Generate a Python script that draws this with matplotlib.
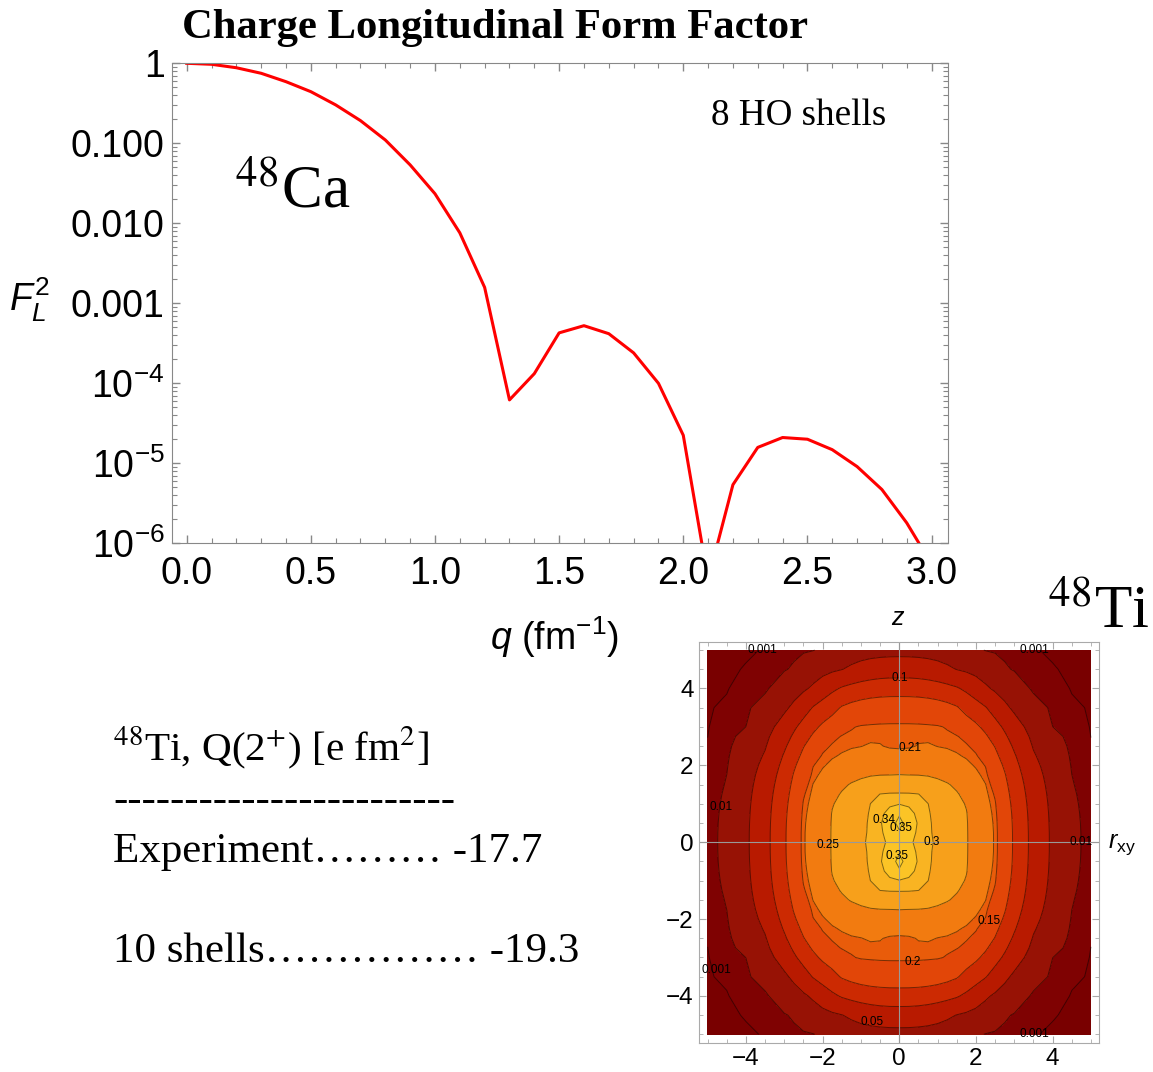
import numpy as np
import matplotlib.pyplot as plt
from matplotlib.ticker import MultipleLocator, LogLocator, NullFormatter

W, H = 1153, 1072

plt.rcParams['font.family'] = 'Liberation Sans'
plt.rcParams['mathtext.fontset'] = 'custom'
plt.rcParams['mathtext.rm'] = 'Liberation Sans'
plt.rcParams['mathtext.it'] = 'Liberation Sans:italic'

# 48Ca charge longitudinal form factor
q = [0.0, 0.1, 0.2, 0.3, 0.4, 0.5, 0.6, 0.7, 0.8, 0.9, 1.0, 1.1, 1.2, 1.3, 1.4, 1.5,
     1.6, 1.7, 1.8, 1.9, 2.0, 2.1, 2.2, 2.3, 2.4, 2.5, 2.6, 2.7, 2.8, 2.9, 3.0]
F2 = [1.0, 0.972, 0.88, 0.75, 0.589, 0.442, 0.302, 0.192, 0.110, 0.0537, 0.0234,
      0.0076, 0.00158, 6.2e-5, 1.32e-4, 4.27e-4, 5.25e-4, 4.17e-4, 2.4e-4, 1.0e-4,
      2.24e-5, 3.5e-7, 5.4e-6, 1.58e-5, 2.1e-5, 2.0e-5, 1.48e-5, 9.1e-6, 4.7e-6,
      1.8e-6, 5.5e-7]
xtick_vals = [0, 0.5, 1, 1.5, 2, 2.5, 3]
xtick_labels = ['0.0', '0.5', '1.0', '1.5', '2.0', '2.5', '3.0']
ytick_vals = [1e-6, 1e-5, 1e-4, 1e-3, 1e-2, 1e-1, 1]
ytick_labels = ['$10^{-6}$', '$10^{-5}$', '$10^{-4}$', '0.001', '0.010', '0.100', '1']

# 48Ti density, one quadrant (r_xy >= 0, z >= 0), in units of 1e-4
grid = [0, 0.25, 0.5, 0.75, 1, 1.25, 1.5, 1.75, 2, 2.25, 2.5, 2.75, 3, 3.5, 4, 4.5, 5]
rho_q = [
    [3455, 3430, 3360, 3120, 2893, 2720, 2604, 2522, 2370, 2215, 2077, 1752, 1443, 841, 429, 150, 45],
    [3490, 3450, 3380, 3070, 2892, 2719, 2604, 2521, 2369, 2214, 2076, 1750, 1441, 839, 428, 149, 44.5],
    [3525, 3460, 3390, 3062, 2882, 2713, 2600, 2519, 2363, 2210, 2067, 1742, 1432, 832, 423, 146, 43.5],
    [3490, 3440, 3370, 3041, 2853, 2695, 2588, 2511, 2347, 2198, 2048, 1724, 1413, 818, 414, 140, 42],
    [3395, 3380, 3320, 3004, 2796, 2659, 2564, 2484, 2316, 2177, 2019, 1694, 1383, 796, 401, 132, 39],
    [3030, 3027, 3006, 2852, 2706, 2602, 2527, 2411, 2269, 2146, 1972, 1652, 1340, 765, 382, 122, 35.5],
    [2772, 2767, 2732, 2663, 2588, 2525, 2440, 2324, 2210, 2105, 1898, 1597, 1284, 724, 358, 110, 31.5],
    [2505, 2499, 2494, 2477, 2443, 2390, 2318, 2234, 2145, 2046, 1809, 1530, 1214, 673, 329, 100.5, 27],
    [2341, 2340, 2335, 2323, 2299, 2262, 2211, 2148, 2079, 1990, 1708, 1438, 1133, 612, 293, 88, 23],
    [2217, 2216, 2212, 2203, 2185, 2157, 2119, 2077, 2025, 1846, 1599, 1323, 1042, 540, 253, 76, 18.5],
    [2055, 2070, 2114, 2125, 2095, 2081, 2058, 2027, 1924, 1701, 1480, 1199, 936, 470, 206, 64, 14],
    [2063, 2063, 2061, 2056, 2048, 2035, 2015, 1929, 1747, 1559, 1320, 1071, 813, 406, 156, 53, 9.5],
    [2040, 2040, 2038, 2032, 2022, 1983, 1869, 1733, 1582, 1389, 1160, 926, 680, 336, 101, 42, 7],
    [1800, 1798, 1785, 1758, 1712, 1640, 1540, 1348, 1192, 1025, 803, 587, 425, 186, 70, 20, 5],
    [1283, 1280, 1267, 1238, 1192, 1127, 1044, 911, 740, 567, 436, 331, 227, 70, 40, 6, 4],
    [771, 767, 747, 709, 651, 573, 489, 430, 362, 287, 207, 124, 86, 49, 12, 5, 3],
    [357, 355, 346, 331, 307, 275, 235, 187, 132, 93, 79, 63, 48, 12, 6, 4, 2],
]
levels = [0.001, 0.01, 0.05, 0.1, 0.15, 0.2, 0.21, 0.25, 0.3, 0.34, 0.35]
band_colors = ['#790000', '#7f0202', '#971205', '#b81a00', '#cc2a02', '#e24608',
               '#e95c0a', '#f27b10', '#f7a01b', '#f9b422', '#fbc426', '#fdd02c']

label_txt = ['0.001', '0.001', '0.1', '0.21', '0.01', '0.34', '0.35', '0.25', '0.3', '0.01',
             '0.35', '0.15', '0.001', '0.2', '0.05', '0.001']
label_r = [-3.57, 3.53, 0.0, 0.28, -4.65, -0.39, 0.05, -1.87, 0.84, 4.74, -0.05, 2.35, -4.78, 0.35, -0.72, 3.52]
label_z = [5.0, 5.0, 4.27, 2.44, 0.91, 0.57, 0.36, -0.07, 0.0, 0.0, -0.35, -2.04, -3.32, -3.12, -4.68, -5.0]


def rect(x0, y0, x1, y1):
    return [x0 / W, 1 - y1 / H, (x1 - x0) / W, (y1 - y0) / H]


fig = plt.figure(figsize=(W / 100, H / 100), dpi=100)

ax = fig.add_axes(rect(171.7, 63.3, 947.7, 543.3))
ax.plot(q, F2, color='#ff0000', lw=2.2)
ax.set_yscale('log')
ax.set_xlim(-0.0604, 3.065)
ax.set_ylim(1e-6, 1)
ax.set_xticks(xtick_vals, xtick_labels)
ax.xaxis.set_minor_locator(MultipleLocator(0.1))
ax.set_yticks(ytick_vals, ytick_labels)
ax.yaxis.set_minor_locator(LogLocator(base=10, subs=np.arange(2, 10), numticks=20))
ax.yaxis.set_minor_formatter(NullFormatter())
ax.tick_params(which='both', direction='in', top=True, right=True, color='#888888', labelsize=27)
ax.tick_params(which='major', length=6, width=1)
ax.tick_params(which='minor', length=3.5, width=0.8)
ax.tick_params(axis='x', pad=9)
ax.tick_params(axis='y', pad=5)
for s in ax.spines.values():
    s.set_color('#888888')
ax.set_xlabel('$q$ (fm$^{-1}$)', fontsize=27)
ax.xaxis.label.set_va('center')
ax.xaxis.set_label_coords((555 - 171.7) / 776, (543.3 - 637) / 480)
ax.set_ylabel('$F_L^2$', fontsize=27, rotation=0)
ax.yaxis.label.set_va('center')
ax.yaxis.label.set_ha('center')
ax.yaxis.set_label_coords((29 - 171.7) / 776, (543.3 - 300) / 480)

serif = dict(fontfamily='Liberation Serif', math_fontfamily='stix', va='baseline', ha='left')
fig.text(181.7 / W, 1 - 38.3 / H, 'Charge Longitudinal Form Factor', fontweight='bold', fontsize=30.7, **serif)
fig.text(710.7 / W, 1 - 125 / H, '8 HO shells', fontsize=26.7, **serif)
fig.text(235 / W, 1 - 208 / H, '$^{48}$Ca', fontsize=44, **serif)
fig.text(1048 / W, 1 - 628 / H, '$^{48}$Ti', fontsize=44, **serif)
fig.text(113 / W, 1 - 760 / H, '$^{48}$Ti, Q(2$^{+}$) [e fm$^{2}$]', fontsize=29.6, **serif)
fig.text(113 / W, 1 - 811 / H, '-' * 24, fontsize=31, **serif)
fig.text(113 / W, 1 - 862 / H, 'Experiment\u2026\u2026\u2026 -17.7', fontsize=31, **serif)
fig.text(113 / W, 1 - 961.7 / H, '10 shells\u2026\u2026\u2026\u2026\u2026 -19.3', fontsize=31, **serif)

# mirror the quadrant into the full r_xy-z plane
g = np.array(grid)
quad = np.array(rho_q) * 1e-4
full = np.vstack([quad[::-1], quad[1:]])
full = np.hstack([full[:, ::-1], full[:, 1:]])
gf = np.concatenate([-g[::-1], g[1:]])
R, Z = np.meshgrid(gf, gf)

cx = fig.add_axes(rect(699.3, 641.7, 1099.3, 1042.7))
cx.contourf(R, Z, full, levels=[0] + levels + [1], colors=band_colors)
cx.contour(R, Z, full, levels=levels, colors='k', linewidths=0.7, alpha=0.5)
cx.axhline(0, color='#999999', lw=0.8)
cx.axvline(0, color='#999999', lw=0.8)
cx.set_xlim(-5.217, 5.217)
cx.set_ylim(-5.217, 5.217)
cx.set_xticks([-4, -2, 0, 2, 4])
cx.set_yticks([-4, -2, 0, 2, 4])
cx.xaxis.set_minor_locator(MultipleLocator(0.5))
cx.yaxis.set_minor_locator(MultipleLocator(0.5))
cx.tick_params(which='both', direction='in', top=True, right=True, color='#aaaaaa', labelsize=17.5, pad=4)
cx.tick_params(which='major', length=5)
cx.tick_params(which='minor', length=3)
for s in cx.spines.values():
    s.set_color('#aaaaaa')
for t, x, y in zip(label_txt, label_r, label_z):
    cx.text(x, y, t, fontsize=8.5, ha='center', va='center')
fig.text(898 / W, 1 - 618 / H, '$z$', fontsize=18, ha='center', va='center')
fig.text(1122 / W, 1 - 845 / H, r'$r_{\mathrm{xy}}$', fontsize=18, ha='center', va='center')

fig.savefig('out.png', dpi=100)
